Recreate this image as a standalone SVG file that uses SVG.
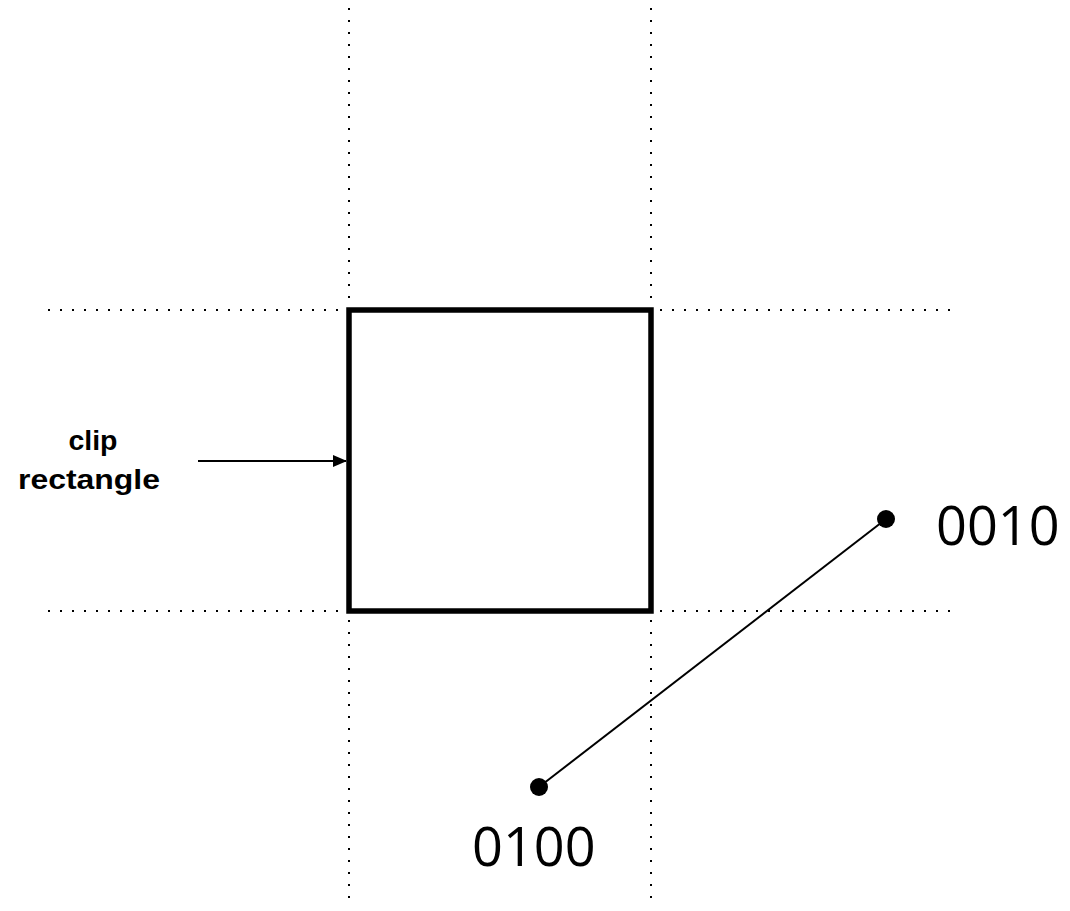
<svg xmlns="http://www.w3.org/2000/svg" width="1070" height="911" viewBox="0 0 1070 911">
<style>
.guide{stroke:#000;stroke-width:2;stroke-dasharray:2 10;fill:none}
.lbl{font-family:"Liberation Sans",Arial,sans-serif;font-weight:bold;font-size:27px;text-anchor:middle}
.code{font-family:"Open Sans","Liberation Sans",sans-serif;font-size:54px}
</style>
<defs>
<marker id="ah" markerWidth="14" markerHeight="12" refX="13" refY="6" orient="auto" markerUnits="userSpaceOnUse">
<path d="M0,0 L14,6 L0,12 Z" fill="#000"/>
</marker>
</defs>
<rect width="1070" height="911" fill="#fff"/>
<g id="guides">
<line class="guide" x1="349" y1="8" x2="349" y2="905"/>
<line class="guide" x1="651" y1="8" x2="651" y2="905"/>
<line class="guide" x1="48" y1="310" x2="955" y2="310"/>
<line class="guide" x1="48" y1="611" x2="955" y2="611"/>
</g>
<g id="clip-rect">
<rect x="349" y="310" width="302" height="301" fill="none" stroke="#000" stroke-width="5.5"/>
</g>
<g id="label">
<text class="lbl" x="93" y="450" textLength="49" lengthAdjust="spacingAndGlyphs">clip</text>
<text class="lbl" x="89" y="489" textLength="142" lengthAdjust="spacingAndGlyphs">rectangle</text>
</g>
<g id="connectors">
<line x1="198" y1="461" x2="346" y2="461" stroke="#000" stroke-width="2" marker-end="url(#ah)"/>
<line x1="539" y1="787" x2="886" y2="519" stroke="#000" stroke-width="2"/>
</g>
<g id="p1">
<circle cx="539" cy="787" r="9" fill="#000"/>
<text class="code" x="472" y="866">0100</text>
</g>
<g id="p2">
<circle cx="886" cy="519" r="9" fill="#000"/>
<text class="code" x="936" y="545">0010</text>
</g>
</svg>
